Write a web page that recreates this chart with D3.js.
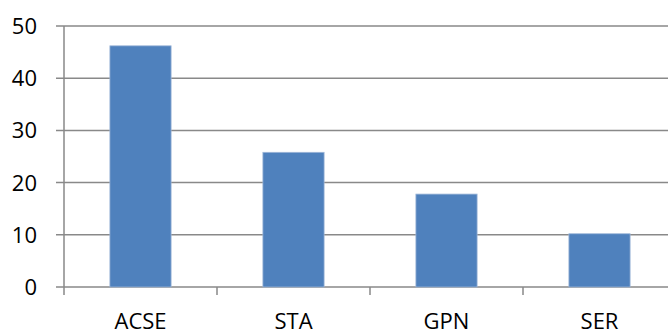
<!DOCTYPE html>
<html>
<head>
<meta charset="utf-8">
<script src="https://cdn.jsdelivr.net/npm/d3@7"></script>
<style>
  body { margin: 0; background: #fff; }
  svg { display: block; }
  text { font-family: "Open Sans", "Liberation Sans", sans-serif; fill: #000; }
</style>
</head>
<body>
<script>
const categories = ["ACSE", "STA", "GPN", "SER"];
const values = [46.2, 25.8, 17.8, 10.2];
const yTicks = [0, 10, 20, 30, 40, 50];

const W = 668, H = 332;
const margin = { top: 26, right: -8, bottom: 45, left: 64 };
const GRID = "#898989";

const svg = d3.select("body").append("svg")
  .attr("width", W)
  .attr("height", H);

const x = d3.scaleBand()
  .domain(categories)
  .range([margin.left, W - margin.right])
  .paddingInner(0.6)
  .paddingOuter(0.3);

const y = d3.scaleLinear()
  .domain([0, 50])
  .range([H - margin.bottom, margin.top]);

// horizontal gridlines + y ticks
const grid = svg.append("g");
grid.selectAll("line")
  .data(yTicks)
  .enter()
  .append("line")
  .attr("x1", margin.left - 8)
  .attr("x2", W)
  .attr("y1", (d) => y(d))
  .attr("y2", (d) => y(d))
  .attr("stroke", GRID)
  .attr("stroke-width", 1.5);

// y axis line
svg.append("line")
  .attr("x1", margin.left)
  .attr("x2", margin.left)
  .attr("y1", y(50))
  .attr("y2", y(0) + 8)
  .attr("stroke", GRID)
  .attr("stroke-width", 1.5);

// category boundary ticks
const step = x.step();
const bounds = d3.range(1, categories.length).map((i) => margin.left + i * step);
svg.append("g").selectAll("line")
  .data(bounds)
  .enter()
  .append("line")
  .attr("x1", (d) => d)
  .attr("x2", (d) => d)
  .attr("y1", y(0))
  .attr("y2", y(0) + 8)
  .attr("stroke", GRID)
  .attr("stroke-width", 1.5);

// bars
svg.append("g").selectAll("rect")
  .data(values)
  .enter()
  .append("rect")
  .attr("x", (d, i) => x(categories[i]))
  .attr("width", x.bandwidth())
  .attr("y", (d) => y(d))
  .attr("height", (d) => y(0) - y(d))
  .attr("fill", "#4F81BD")
  .attr("stroke", "#9db6d8")
  .attr("stroke-width", 0.8);

// y labels
svg.append("g").selectAll("text")
  .data(yTicks)
  .enter()
  .append("text")
  .attr("x", 37)
  .attr("y", (d) => y(d))
  .attr("dy", "0.36em")
  .attr("text-anchor", "end")
  .attr("font-size", 22)
  .text((d) => d);

// category labels
svg.append("g").selectAll("text")
  .data(categories)
  .enter()
  .append("text")
  .attr("x", (d) => x(d) + x.bandwidth() / 2)
  .attr("y", 329)
  .attr("text-anchor", "middle")
  .attr("font-size", 22)
  .text((d) => d);
</script>
</body>
</html>
